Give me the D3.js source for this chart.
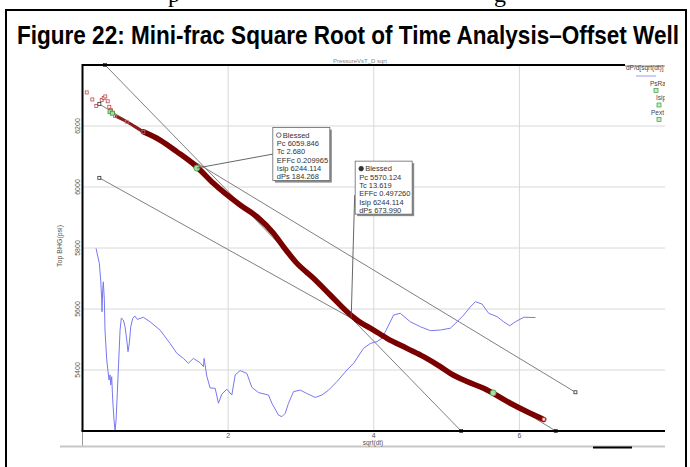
<!DOCTYPE html>
<html>
<head>
<meta charset="utf-8">
<script src="https://cdn.jsdelivr.net/npm/d3@7"></script>
<style>
  body { margin: 0; background: #fff; }
  svg { display: block; }
  text { font-family: "Liberation Sans", Arial, sans-serif; }
</style>
</head>
<body>
<svg id="chart" width="690" height="467"></svg>
<script>
// ---- data ----
const xTicks = [2, 4, 6];
const yTicks = [5400, 5600, 5800, 6000, 6200];

// early scattered pressure points (hollow squares)
const earlyX = [0.058, 0.135, 0.190, 0.264, 0.291, 0.313, 0.346, 0.368, 0.392, 0.419];
const earlyY = [6310, 6287, 6266, 6285, 6292, 6297, 6281, 6263, 6252, 6243];

// main pressure curve, Top BHG (psi) vs sqrt(dt)
const pressX = [0.447, 0.608, 0.836, 1.065, 1.295, 1.570, 1.798, 2.165, 2.395, 2.623, 2.760, 2.944,
  3.172, 3.402, 3.632, 3.769, 3.997, 4.181, 4.456, 4.684, 4.914, 5.052, 5.281, 5.509, 5.876, 6.106, 6.334];
const pressY = [6233, 6214, 6181, 6154, 6116, 6066, 6012, 5941, 5903, 5848, 5804, 5750,
  5701, 5646, 5591, 5564, 5531, 5504, 5471, 5444, 5411, 5389, 5362, 5340, 5291, 5263, 5238];

// dP/d[sqrt(dt)] curve, drawn on the same vertical scale
const derivX = [0.186, 0.231, 0.250, 0.264, 0.268, 0.278, 0.286, 0.300, 0.309, 0.333, 0.364, 0.378,
  0.388, 0.401, 0.415, 0.433, 0.447, 0.461, 0.478, 0.498, 0.516, 0.533, 0.561, 0.584, 0.608, 0.625,
  0.643, 0.663, 0.690, 0.718, 0.753, 0.836, 0.928, 1.065, 1.203, 1.295, 1.386, 1.454, 1.523, 1.615,
  1.661, 1.670, 1.707, 1.753, 1.822, 1.867, 1.914, 1.982, 2.051, 2.097, 2.165, 2.257, 2.326, 2.417,
  2.554, 2.601, 2.692, 2.738, 2.784, 2.829, 2.898, 2.990, 3.082, 3.196, 3.288, 3.379, 3.494, 3.632,
  3.723, 3.860, 3.952, 4.044, 4.113, 4.204, 4.272, 4.364, 4.502, 4.639, 4.777, 4.914, 5.052, 5.144,
  5.235, 5.327, 5.396, 5.488, 5.578, 5.694, 5.785, 5.867, 5.945, 6.060, 6.220];
const derivY = [5799, 5750, 5695, 5630, 5591, 5668, 5689, 5630, 5531, 5433, 5367, 5384,
  5351, 5378, 5302, 5236, 5201, 5236, 5324, 5433, 5531, 5570, 5564, 5542, 5498, 5460,
  5488, 5542, 5569, 5577, 5566, 5573, 5558, 5531, 5487, 5455, 5438, 5422, 5438, 5424,
  5411, 5438, 5380, 5341, 5340, 5291, 5321, 5337, 5318, 5384, 5398, 5389, 5343, 5326,
  5318, 5291, 5252, 5247, 5258, 5291, 5329, 5334, 5323, 5310, 5318, 5334, 5362, 5400,
  5422, 5471, 5487, 5493, 5504, 5547, 5580, 5586, 5558, 5542, 5529, 5531, 5537, 5558,
  5580, 5607, 5624, 5616, 5586, 5575, 5558, 5545, 5558, 5573, 5572];

// straight-line fits: [x1, y1, x2, y2]
const fitLines = [
  [0.310, 6400, 5.200, 5200],
  [0.231, 6272, 6.770, 5327],
  [0.231, 6030, 3.690, 5570],
  [5.640, 5325, 6.500, 5200]
];
const lineEnds = [[0.310, 6400], [5.200, 5200], [0.231, 6272], [6.770, 5327], [0.231, 6030], [6.500, 5200]];

// green picks
const picks = [[1.570, 6062], [5.640, 5325]];
const isipPts = [[0.378, 6247], [0.410, 6242]];

// closure annotations
const closures = [
  { x: 1.570, y: 6062, filled: false, lines: ["Pc 6059.846", "Tc 2.680", "EFFc 0.209965", "Isip 6244.114", "dPs 184.268"] },
  { x: 3.690, y: 5570, filled: true, lines: ["Pc 5570.124", "Tc 13.619", "EFFc 0.497260", "Isip 6244.114", "dPs  673.990"] }
];

const legendItems = ["PsRad", "Isip", "Pext"];

// ---- drawing ----
const svg = d3.select("#chart");
const x = d3.scaleLinear().domain([0, 8]).range([82.5, 665]);
const y = d3.scaleLinear().domain([5200, 6400]).range([431, 65]);

// cut-off line of text above the figure
svg.append("text").attr("x", 168).attr("y", 2)
    .style("font-family", "'Liberation Serif', serif").style("font-size", "24px").text("p");
svg.append("text").attr("x", 494).attr("y", 2)
    .style("font-family", "'Liberation Serif', serif").style("font-size", "24px").text("g");

// outer frame
svg.append("path")
    .attr("d", "M6,467 V10 H686 V467")
    .attr("fill", "none").attr("stroke", "#000").attr("stroke-width", 2);

svg.append("text")
    .attr("x", 17).attr("y", 44)
    .attr("textLength", 662).attr("lengthAdjust", "spacingAndGlyphs")
    .style("font-family", "'Liberation Sans Narrow', 'Arial Narrow', 'Liberation Sans', sans-serif")
    .style("font-weight", "bold").style("font-size", "25px")
    .text("Figure 22: Mini-frac Square Root of Time Analysis\u2013Offset Well");

// grid
const grid = svg.append("g").attr("stroke", "#d8d8d8").attr("stroke-width", 1);
grid.selectAll("line.v").data(xTicks).enter().append("line")
    .attr("x1", d => x(d)).attr("x2", d => x(d)).attr("y1", 65).attr("y2", 431);
grid.selectAll("line.h").data(yTicks).enter().append("line")
    .attr("x1", 82.5).attr("x2", 665).attr("y1", d => y(d)).attr("y2", d => y(d));

// small chart caption
svg.append("text").attr("x", 360).attr("y", 63).attr("text-anchor", "middle")
    .style("font-size", "6px").style("fill", "#888").text("PressureVsT_D sqrt");

// fit lines
svg.append("g").selectAll("line").data(fitLines).enter().append("line")
    .attr("x1", d => x(d[0])).attr("y1", d => y(d[1]))
    .attr("x2", d => x(d[2])).attr("y2", d => y(d[3]))
    .attr("stroke", "#707070").attr("stroke-width", 0.9);

// derivative curve
const derivData = derivX.map((v, i) => [v, derivY[i]]);
svg.append("path")
    .datum(derivData)
    .attr("d", d3.line().x(d => x(d[0])).y(d => y(d[1])))
    .attr("fill", "none").attr("stroke", "#7878f0").attr("stroke-width", 1);

// pressure curve: thin early part, thick main part
const pressData = pressX.map((v, i) => [v, pressY[i]]);
const pLine = d3.line().x(d => x(d[0])).y(d => y(d[1])).curve(d3.curveMonotoneX);
svg.append("path").datum(pressData.slice(0, 4))
    .attr("d", pLine).attr("fill", "none").attr("stroke", "#8a1c1c").attr("stroke-width", 3);
svg.append("path").datum(pressData.slice(2))
    .attr("d", pLine).attr("fill", "none").attr("stroke", "#7a0000").attr("stroke-width", 5.5)
    .attr("stroke-linecap", "round");

const sq = 3;
svg.append("g").selectAll("rect").data(earlyX.map((v, i) => [v, earlyY[i]])).enter().append("rect")
    .attr("x", d => x(d[0]) - sq / 2).attr("y", d => y(d[1]) - sq / 2)
    .attr("width", sq).attr("height", sq)
    .attr("fill", "#fff").attr("stroke", "#c04848").attr("stroke-width", 0.8);
svg.append("g").selectAll("rect").data(pressData.slice(0, 3)).enter().append("rect")
    .attr("x", d => x(d[0]) - sq / 2).attr("y", d => y(d[1]) - sq / 2)
    .attr("width", sq).attr("height", sq)
    .attr("fill", "none").attr("stroke", "#c07070").attr("stroke-width", 0.8);
// last point marker
const last = pressData[pressData.length - 1];
svg.append("rect").attr("x", x(last[0]) - 1.5).attr("y", y(last[1]) - 1.5)
    .attr("width", 3).attr("height", 3).attr("fill", "#fff").attr("stroke", "#d04040").attr("stroke-width", 0.8);

// line end markers
svg.append("g").selectAll("rect").data(lineEnds).enter().append("rect")
    .attr("x", d => x(d[0]) - 1.5).attr("y", d => y(d[1]) - 1.5)
    .attr("width", 3).attr("height", 3)
    .attr("fill", "#fff").attr("stroke", "#333").attr("stroke-width", 0.8);

// green markers
svg.append("g").selectAll("rect").data(isipPts).enter().append("rect")
    .attr("x", d => x(d[0]) - 2).attr("y", d => y(d[1]) - 2)
    .attr("width", 4).attr("height", 4)
    .attr("fill", "#a8dca8").attr("stroke", "#3a9a3a").attr("stroke-width", 0.8);
svg.append("g").selectAll("circle").data(picks).enter().append("circle")
    .attr("cx", d => x(d[0])).attr("cy", d => y(d[1])).attr("r", 3)
    .attr("fill", "#a8dca8").attr("stroke", "#3a9a3a").attr("stroke-width", 0.8);

// annotation boxes: [box dx, box dy from anchor, leader end dx, dy within box]
const boxOffsets = [[76, -40.5, 0, 26.5], [4, -157, -0.5, 34]];
closures.forEach((c, i) => {
    const ax = x(c.x), ay = y(c.y);
    const o = boxOffsets[i];
    const bx = ax + o[0], by = ay + o[1];
    const bw = 57, bh = 53;
    svg.append("line")
        .attr("x1", ax).attr("y1", ay)
        .attr("x2", bx + o[2]).attr("y2", by + o[3])
        .attr("stroke", "#555").attr("stroke-width", 0.9);
    svg.append("rect").attr("x", bx + 2).attr("y", by + 2).attr("width", bw).attr("height", bh).attr("fill", "#8a8a8a");
    svg.append("rect").attr("x", bx).attr("y", by).attr("width", bw).attr("height", bh)
        .attr("fill", "#fff").attr("stroke", "#666").attr("stroke-width", 0.8);
    svg.append("circle").attr("cx", bx + 6).attr("cy", by + 7.5).attr("r", 2.3)
        .attr("fill", c.filled ? "#333" : "#fff").attr("stroke", "#333").attr("stroke-width", 0.7);
    svg.append("text").attr("x", bx + 10).attr("y", by + 10)
        .style("font-size", "7.5px").style("fill", "#333").text("Blessed");
    svg.append("g").selectAll("text").data(c.lines).enter().append("text")
        .attr("x", bx + 4).attr("y", (d, j) => by + 18.5 + j * 8.3)
        .style("font-size", "7.5px").style("fill", "#333")
        .text(d => d);
});

// axes frame
svg.append("line").attr("x1", 82.5).attr("x2", 625).attr("y1", 65).attr("y2", 65)
    .attr("stroke", "#000").attr("stroke-width", 2);
svg.append("line").attr("x1", 625).attr("x2", 665).attr("y1", 66).attr("y2", 66)
    .attr("stroke", "#888").attr("stroke-width", 1);
svg.append("line").attr("x1", 82.5).attr("x2", 82.5).attr("y1", 64).attr("y2", 431)
    .attr("stroke", "#000").attr("stroke-width", 2);
svg.append("line").attr("x1", 82.5).attr("x2", 82.5).attr("y1", 431).attr("y2", 446)
    .attr("stroke", "#999").attr("stroke-width", 1);
svg.append("line").attr("x1", 81.5).attr("x2", 665).attr("y1", 431).attr("y2", 431)
    .attr("stroke", "#000").attr("stroke-width", 2);
svg.append("line").attr("x1", 60).attr("x2", 665).attr("y1", 446.5).attr("y2", 446.5)
    .attr("stroke", "#c8c8c8").attr("stroke-width", 2);
svg.append("line").attr("x1", 593).attr("x2", 632).attr("y1", 447.5).attr("y2", 447.5)
    .attr("stroke", "#000").attr("stroke-width", 2);

// tick labels
svg.append("g").selectAll("text").data(xTicks).enter().append("text")
    .attr("x", d => x(d)).attr("y", 438).attr("text-anchor", "middle")
    .style("font-size", "7px").style("fill", "#555").text(d => d);
svg.append("g").selectAll("text").data(yTicks).enter().append("text")
    .attr("transform", d => `translate(80,${y(d)}) rotate(-90)`)
    .attr("text-anchor", "middle")
    .style("font-size", "7px").style("fill", "#555").text(d => d);

svg.append("text").attr("x", 373).attr("y", 444.5).attr("text-anchor", "middle")
    .style("font-size", "6.5px").style("fill", "#555").text("sqrt(dt)");
svg.append("text").attr("transform", "translate(62,246) rotate(-90)").attr("text-anchor", "middle")
    .style("font-size", "7px").style("fill", "#555").text("Top BHG(psi)");

// legend (clipped at right edge)
svg.append("clipPath").attr("id", "legclip").append("rect")
    .attr("x", 600).attr("y", 55).attr("width", 65).attr("height", 80);
const leg = svg.append("g").attr("clip-path", "url(#legclip)");
leg.append("text").attr("x", 626).attr("y", 70).style("font-size", "6.5px").style("fill", "#444")
    .text("dP/d[sqrt(dt)]");
leg.append("line").attr("x1", 636).attr("x2", 656).attr("y1", 76).attr("y2", 76)
    .attr("stroke", "#9a9af0").attr("stroke-width", 1);
leg.selectAll("text.item").data(legendItems).enter().append("text")
    .attr("x", (d, i) => [650, 656, 651][i]).attr("y", (d, i) => 85.5 + i * 14.5)
    .style("font-size", "6.5px").style("fill", "#444").text(d => d);
leg.selectAll("rect.icon").data(legendItems).enter().append("rect")
    .attr("x", (d, i) => [654, 657, 657][i]).attr("y", (d, i) => 88.5 + i * 14.5)
    .attr("width", 4).attr("height", 4)
    .attr("fill", "#c8ecc8").attr("stroke", "#3a9a3a").attr("stroke-width", 0.7);
</script>
</body>
</html>
